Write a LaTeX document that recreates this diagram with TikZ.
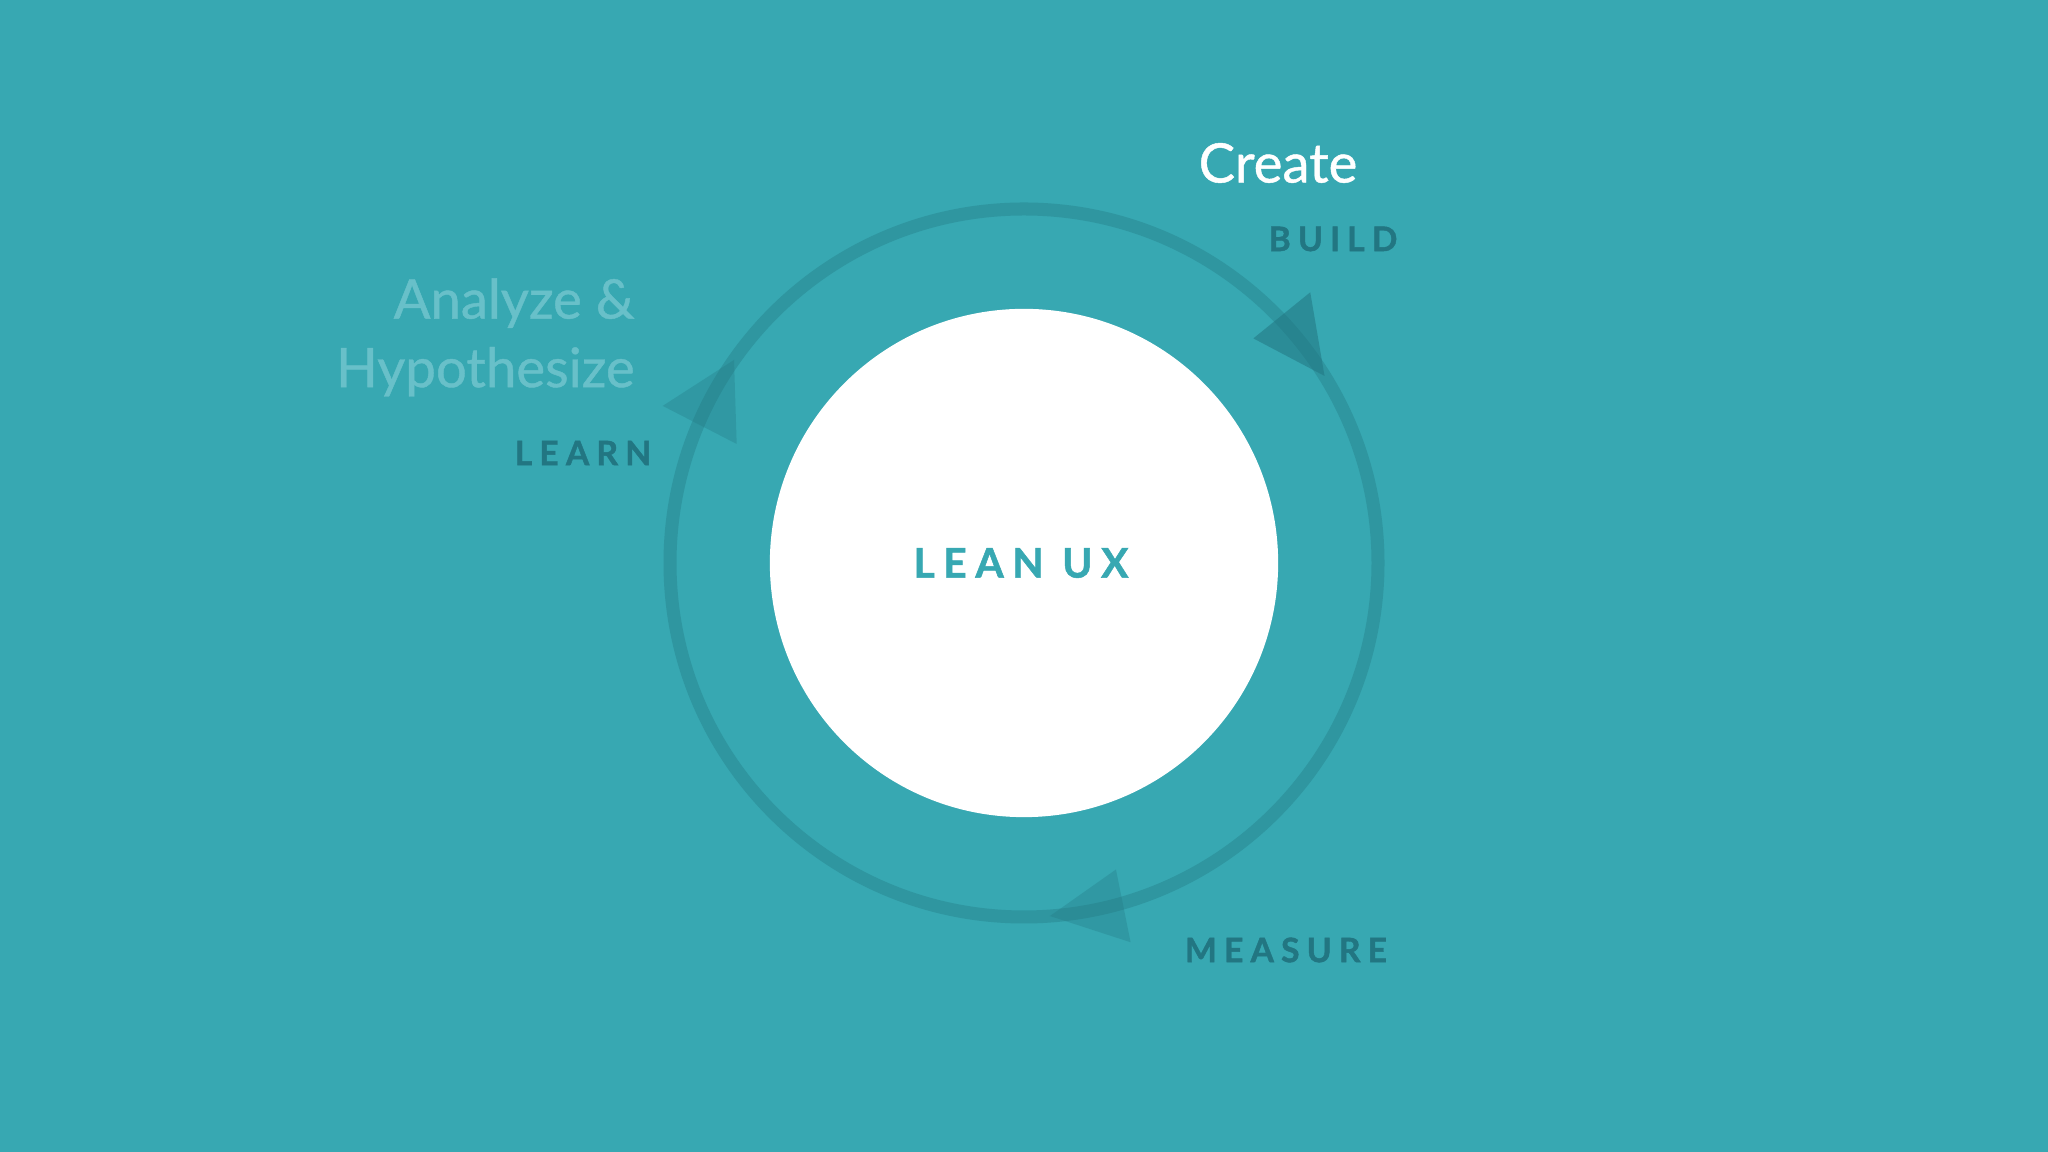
\documentclass[tikz,border=0pt]{standalone}
\usepackage{fontspec}
\setmainfont{Lato}
\usepackage{tikz}
\usetikzlibrary{positioning}

\definecolor{bgteal}{RGB}{55,168,178}
\definecolor{ringteal}{RGB}{47,150,160}
\definecolor{darkteal}{RGB}{34,118,130}
\definecolor{fadeteal}{RGB}{104,192,201}

\tikzset{
  step label/.style={text=darkteal, font=\fontsize{9.6}{11}\selectfont\bfseries\addfontfeature{LetterSpace=21,FakeBold=1.2}},
  phase label/.style={font=\fontsize{15.5}{19.5}\selectfont\addfontfeature{FakeBold=0.8}},
  arrowhead/.style={fill=darkteal, fill opacity=#1}
}

\begin{document}
\begin{tikzpicture}[x=0.01cm, y=0.01cm]
\fill [bgteal] (0,0) rectangle (2048,1152);
\useasboundingbox (0,0) rectangle (2048,1152);

\coordinate (c) at (1024,589);

% ring and core
\draw [ringteal, line width=3.7pt] (c) circle (354);
\node [circle, fill=white, minimum size=5.08cm, inner sep=0pt] (core) at (c) {};
\node [text=bgteal, font=\fontsize{11.6}{14}\selectfont\bfseries\addfontfeature{LetterSpace=21,FakeBold=1.2}] (leanux) at (1021,589) {LEAN UX};

% arrow heads on the ring
\begin{scope}[shift={(c)}]
\foreach \a/\o/\r in {31.9/0.55/321,
                      145/0.3/311,
                      -85.8/0.3/320}
    \fill [arrowhead=\o] (\a:354) -- (\a+12.5:\r) -- (\a+11.5:394) -- cycle;
\end{scope}

\node [phase label, text=white] (create) at (1278,1152-163) {Create};
\node [step label] (build) at (1333,1152-239) {BUILD};

\node [phase label, text=fadeteal, align=right, anchor=north east] (analyze) at (647,1152-266) {Analyze \&\\Hypothesize};
\node [step label] (learn) at (583,1152-453) {LEARN};

\node [step label] (measure) at (1286,1152-950) {MEASURE};

\end{tikzpicture}
\end{document}
